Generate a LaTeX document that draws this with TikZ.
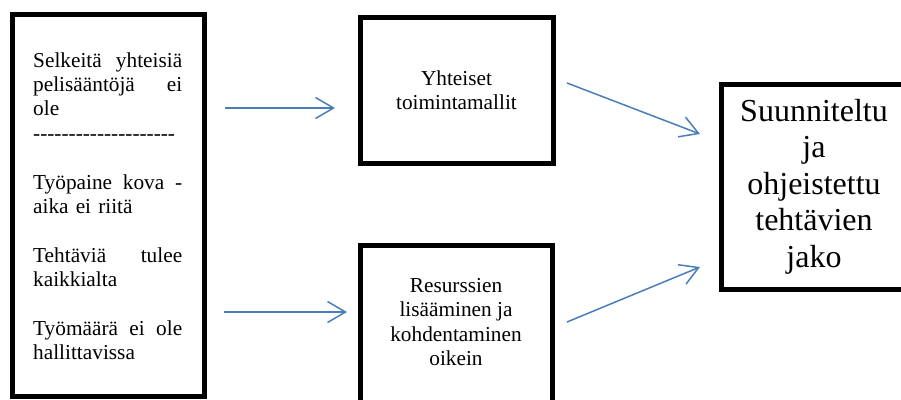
\documentclass[tikz,border=0pt]{standalone}
\usepackage{fontspec}
\setmainfont{Liberation Serif}
\usetikzlibrary{arrows.meta}
\definecolor{arrowblue}{RGB}{74,126,187}
\newcommand\hyph{\mbox{-}}
\tikzset{
  box/.style={draw=black, line width=5pt, rectangle, inner sep=0pt},
  boxtext/.style={inner sep=0pt, align=center, font=\fontsize{21.3}{24.5}\selectfont},
  bigtext/.style={inner sep=0pt, align=center, font=\fontsize{32}{36.6}\selectfont},
  flow/.style={draw=arrowblue, line width=1.5pt, -{Straight Barb[length=18pt,width=21pt]}},
}
\begin{document}
\begin{tikzpicture}[x=1pt,y=-1pt]
\clip (0,0) rectangle (901,399);

% problem list
\node[box, minimum width=191.5pt, minimum height=382pt] (causes) at (108.25,205) {};
\node[anchor=north west, text width=149pt, inner sep=0pt, align=left,
      font=\fontsize{21.3}{24.2}\selectfont] (causetext) at (33,52.6)
  {Selkeitä\hfill yhteisiä\\
   pelisääntöjä\hfill ei\\
   ole\\
   \hyph\hyph\hyph\hyph\hyph\hyph\hyph\hyph\hyph\hyph\hyph\hyph\hyph\hyph\hyph\hyph\hyph\hyph\hyph\hyph\\[25pt]
   Työpaine\hfill kova\hfill -\\
   aika ei riitä\\[24.5pt]
   Tehtäviä\hfill tulee\\
   kaikkialta\\[24.5pt]
   Työmäärä\hfill ei\hfill ole\\
   hallittavissa};

% measures
\node[box, minimum width=193pt, minimum height=146pt] (common) at (456.5,90) {};
\node[boxtext] (commontext) at (common.center) {Yhteiset\\toimintamallit};
\node[box, minimum width=192pt, minimum height=180pt, anchor=north] (resources) at (456,243) {};
\node[boxtext] (resourcestext) at (456,322) {Resurssien\\lisääminen ja\\kohdentaminen\\oikein};

% goal
\node[box, minimum width=210pt, minimum height=205pt, anchor=west] (goal) at (719,186.5) {};
\node[bigtext] (goaltext) at (814,186.5) {Suunniteltu\\ja\\ohjeistettu\\tehtävien\\jako};

% connectors
\coordinate (a1s) at (225,108);
\coordinate (a1e) at (335,108);
\coordinate (a2s) at (224,312);
\coordinate (a2e) at (347,312);
\coordinate (a3s) at (567,83);
\coordinate (a3e) at (700,134);
\coordinate (a4s) at (567,322);
\coordinate (a4e) at (700,267);
\draw[flow] (a1s) -- (a1e);
\draw[flow] (a2s) -- (a2e);
\draw[flow] (a3s) -- (a3e);
\draw[flow] (a4s) -- (a4e);
\end{tikzpicture}
\end{document}
